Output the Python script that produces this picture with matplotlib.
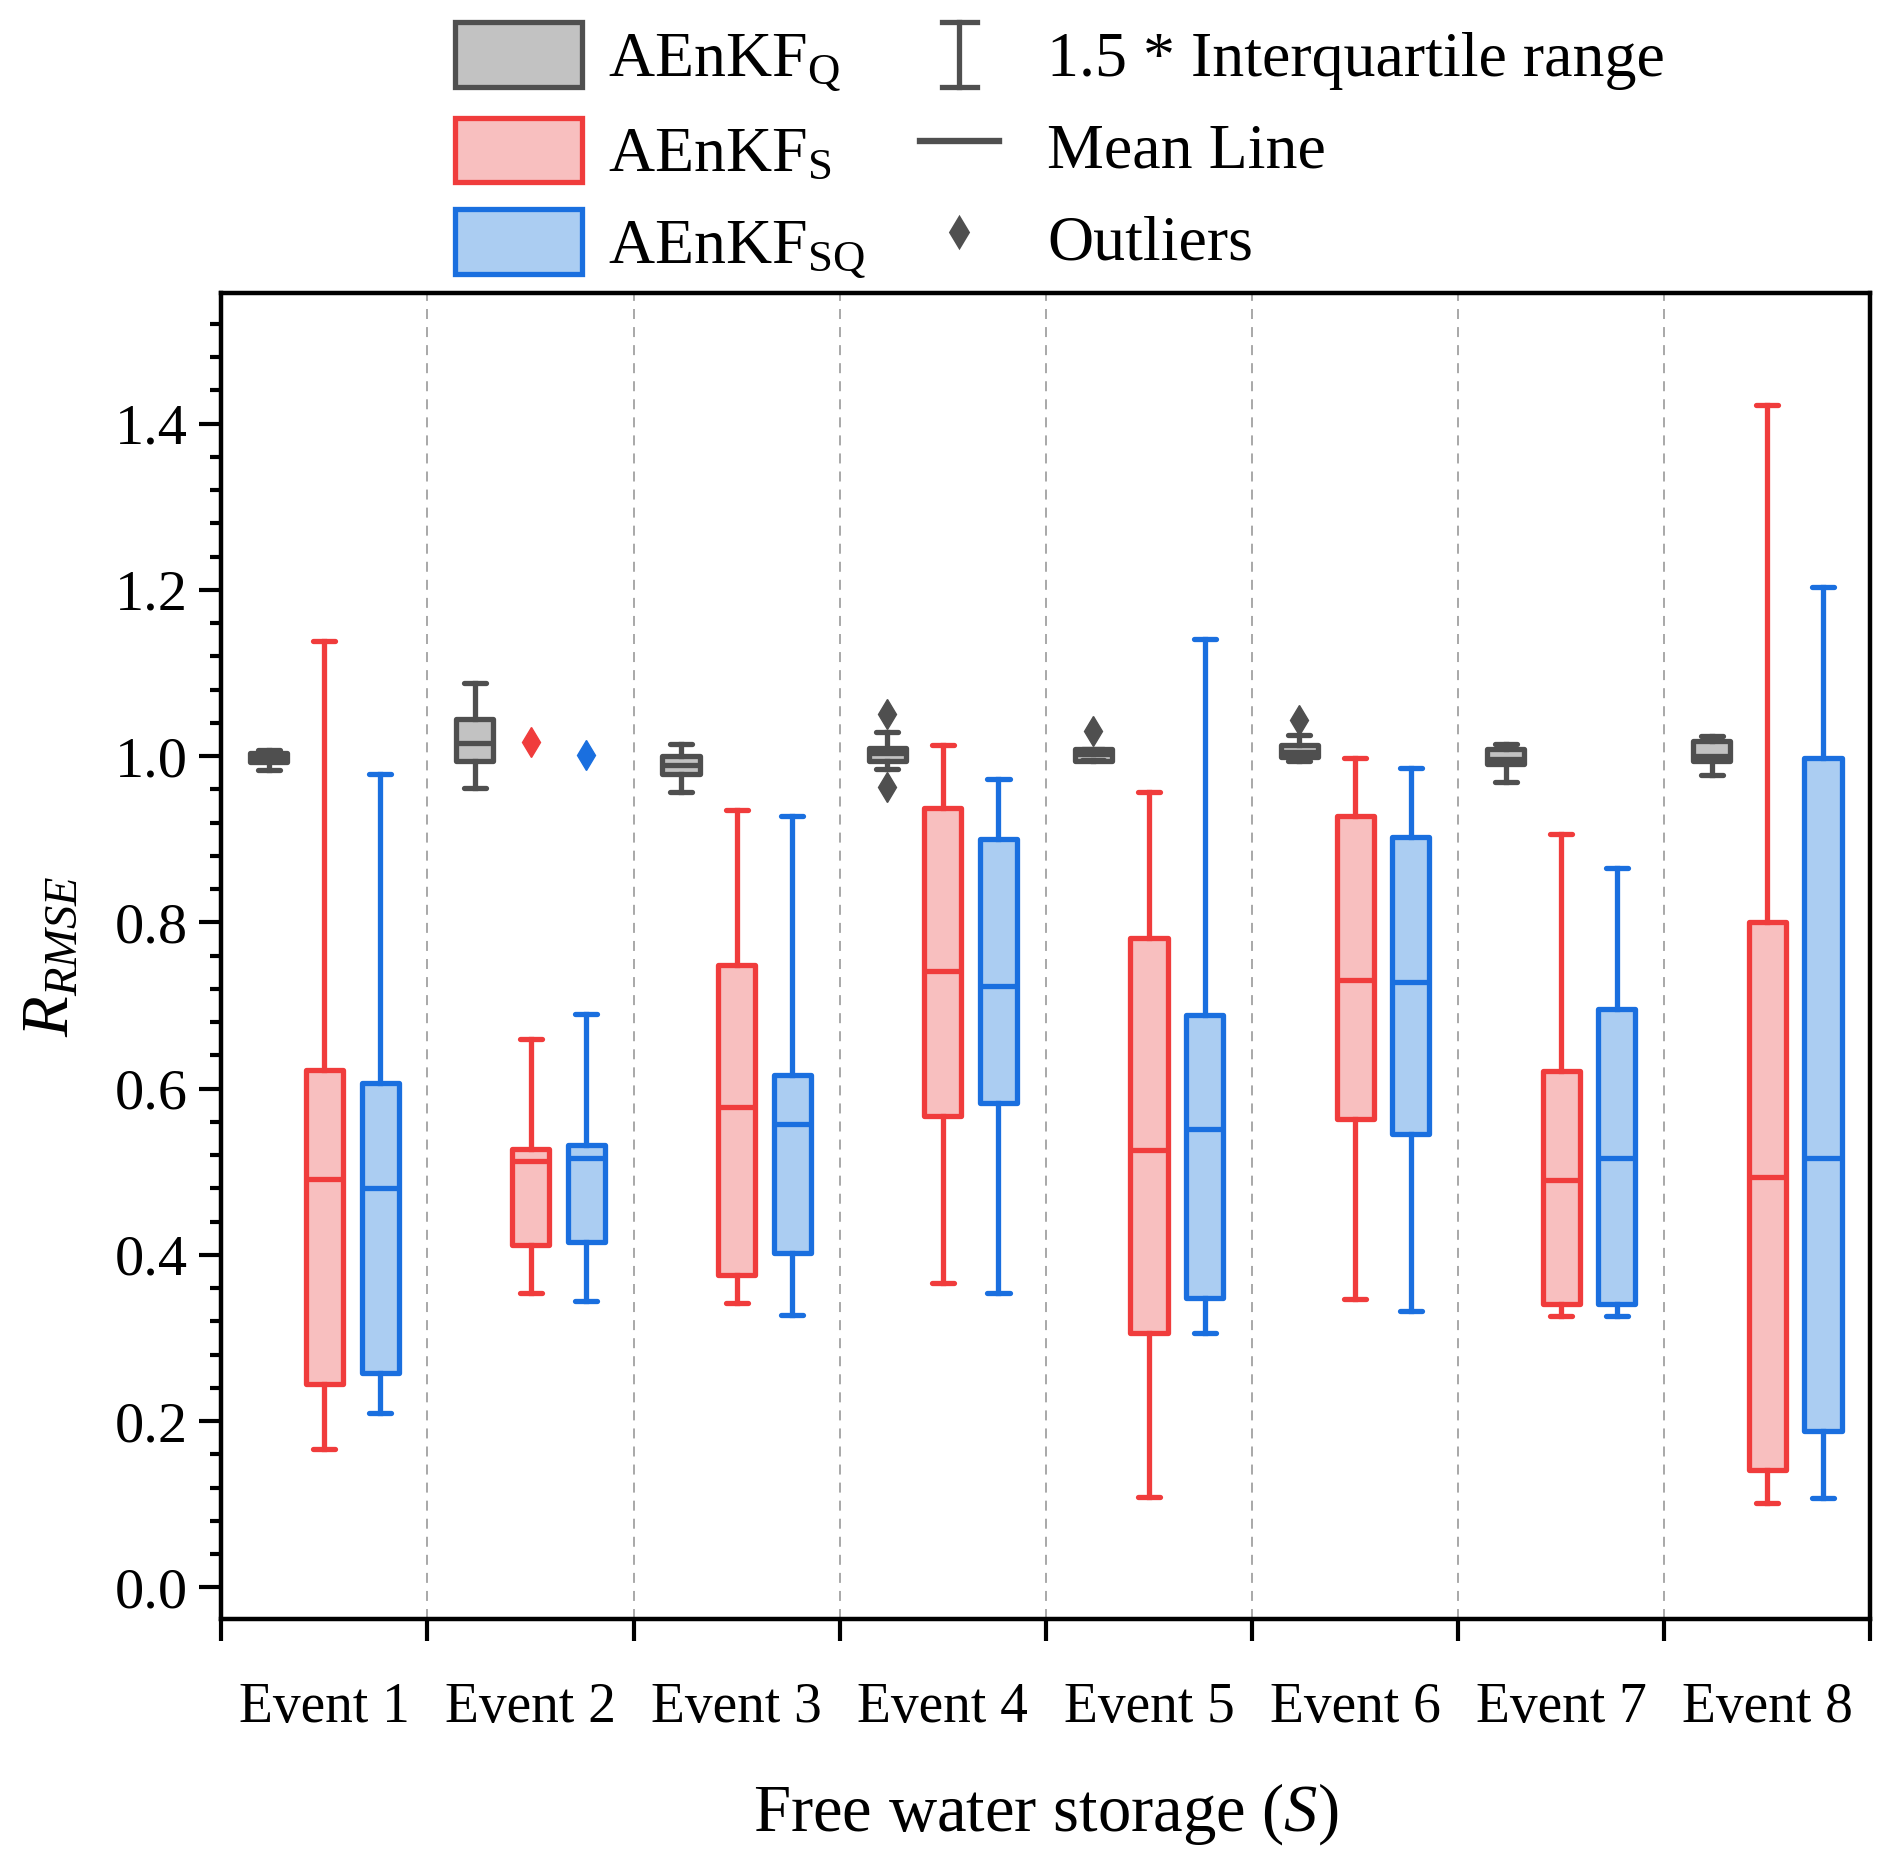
import numpy as np
import matplotlib
matplotlib.use("Agg")
import matplotlib.pyplot as plt
from matplotlib.patches import Patch
from matplotlib.lines import Line2D
from matplotlib.legend_handler import HandlerBase
from matplotlib.ticker import MultipleLocator, FixedLocator, NullFormatter, FixedFormatter

plt.rcParams['font.family'] = ['Liberation Serif', 'DejaVu Serif']
plt.rcParams['mathtext.fontset'] = 'custom'
plt.rcParams['mathtext.rm'] = 'Liberation Serif'
plt.rcParams['mathtext.it'] = 'Liberation Serif:italic'
plt.rcParams['mathtext.bf'] = 'Liberation Serif:bold'
plt.rcParams['lines.scale_dashes'] = False

# ---------------- data ----------------
events = ["Event 1", "Event 2", "Event 3", "Event 4", "Event 5", "Event 6", "Event 7", "Event 8"]
series_names = ["AEnKF$_{\\mathrm{Q}}$", "AEnKF$_{\\mathrm{S}}$", "AEnKF$_{\\mathrm{SQ}}$"]

# AEnKF_Q
q_whislo = [0.983, 0.962, 0.957, 0.984, 0.995, 0.994, 0.969, 0.977]
q_q1     = [0.993, 0.994, 0.978, 0.994, 0.994, 0.999, 0.990, 0.994]
q_mean   = [0.998, 1.016, 0.989, 1.004, 1.002, 1.005, 0.996, 1.000]
q_q3     = [1.004, 1.045, 1.000, 1.010, 1.009, 1.013, 1.009, 1.018]
q_whishi = [1.007, 1.088, 1.015, 1.029, 1.009, 1.026, 1.014, 1.024]
q_fliers = [[], [], [], [1.051, 0.963], [1.030], [1.043], [], []]

# AEnKF_S
s_whislo = [0.166, 0.354, 0.342, 0.366, 0.109, 0.347, 0.326, 0.102]
s_q1     = [0.245, 0.412, 0.376, 0.567, 0.306, 0.564, 0.341, 0.141]
s_mean   = [0.491, 0.513, 0.578, 0.742, 0.526, 0.731, 0.490, 0.494]
s_q3     = [0.622, 0.527, 0.749, 0.937, 0.781, 0.928, 0.621, 0.800]
s_whishi = [1.139, 0.660, 0.935, 1.013, 0.957, 0.998, 0.906, 1.422]
s_fliers = [[], [1.017], [], [], [], [], [], []]

# AEnKF_SQ
sq_whislo = [0.210, 0.345, 0.328, 0.354, 0.306, 0.332, 0.326, 0.108]
sq_q1     = [0.258, 0.415, 0.402, 0.583, 0.348, 0.546, 0.341, 0.188]
sq_mean   = [0.481, 0.517, 0.558, 0.724, 0.552, 0.728, 0.517, 0.517]
sq_q3     = [0.607, 0.532, 0.616, 0.900, 0.689, 0.903, 0.696, 0.998]
sq_whishi = [0.979, 0.690, 0.928, 0.973, 1.141, 0.986, 0.865, 1.203]
sq_fliers = [[], [1.001], [], [], [], [], [], []]

edge_colors = ["#4f4f4f", "#f03c3c", "#1a6fdf"]
face_colors = ["#c2c2c2", "#f8bfbf", "#abcdf2"]
offsets = [-0.27, 0.0, 0.27]

all_series = [
    (q_whislo, q_q1, q_mean, q_q3, q_whishi, q_fliers),
    (s_whislo, s_q1, s_mean, s_q3, s_whishi, s_fliers),
    (sq_whislo, sq_q1, sq_mean, sq_q3, sq_whishi, sq_fliers),
]

# ---------------- figure ----------------
fig = plt.figure(figsize=(9.46, 9.31), dpi=200)
ax = fig.add_axes([0.117, 0.1305, 0.8716, 0.7121])

LW = 1.9
x_centers = np.arange(1, len(events) + 1)

for k, (wlo, q1, mn, q3, whi, fl) in enumerate(all_series):
    stats = []
    for i in range(len(events)):
        stats.append(dict(whislo=wlo[i], q1=q1[i], med=mn[i], q3=q3[i], whishi=whi[i],
                          fliers=np.array(fl[i])))
    ec = edge_colors[k]
    ax.bxp(stats, positions=x_centers + offsets[k], widths=0.18, capwidths=0.107,
           patch_artist=True, showfliers=True,
           boxprops=dict(facecolor=face_colors[k], edgecolor=ec, linewidth=LW, joinstyle='round'),
           medianprops=dict(color=ec, linewidth=LW, solid_capstyle='butt'),
           whiskerprops=dict(color=ec, linewidth=LW),
           capprops=dict(color=ec, linewidth=LW, solid_capstyle='round'),
           flierprops=dict(marker='d', markerfacecolor=ec, markeredgecolor=ec,
                           markersize=7.6, markeredgewidth=0.5, linestyle='none'),
           zorder=3)

# separators
for b in np.arange(1.5, len(events), 1.0):
    ax.axvline(b, color='#9a9a9a', lw=0.6, linestyle=(0, (3.6, 2.9)), zorder=1)

ax.set_xlim(0.5, len(events) + 0.5)
ax.set_ylim(-0.038, 1.557)

# y ticks
ax.yaxis.set_major_locator(MultipleLocator(0.2))
ax.yaxis.set_minor_locator(MultipleLocator(0.04))
ax.yaxis.set_major_formatter(matplotlib.ticker.FormatStrFormatter('%.1f'))
ax.tick_params(axis='y', which='major', length=8, width=1.5, labelsize=21, pad=4, direction='out')
ax.tick_params(axis='y', which='minor', length=4, width=1.5, direction='out')

# x ticks: boundaries major, labels at minor centers
ax.xaxis.set_major_locator(FixedLocator(np.arange(0.5, len(events) + 1, 1.0)))
ax.xaxis.set_major_formatter(NullFormatter())
ax.xaxis.set_minor_locator(FixedLocator(x_centers))
ax.xaxis.set_minor_formatter(FixedFormatter(events))
ax.tick_params(axis='x', which='major', length=8, width=1.5, direction='out')
ax.tick_params(axis='x', which='minor', length=0, labelsize=20, pad=22.5)

for sp in ax.spines.values():
    sp.set_linewidth(1.6)

ax.set_xlabel("Free water storage ($\\mathit{S}$)", fontsize=24, labelpad=17)
ax.set_ylabel("$R_{RMSE}$", fontsize=24, labelpad=12)

# ---------------- legend ----------------
class WhiskerHandler(HandlerBase):
    def create_artists(self, legend, orig_handle, xdescent, ydescent, width, height, fontsize, trans):
        cx = -xdescent + width / 2
        y0 = -ydescent
        y1 = -ydescent + height
        hw = 0.22 * width
        c = orig_handle.get_color()
        lw = orig_handle.get_linewidth()
        arts = [Line2D([cx, cx], [y0, y1], color=c, lw=lw, transform=trans),
                Line2D([cx - hw, cx + hw], [y0, y0], color=c, lw=lw, transform=trans),
                Line2D([cx - hw, cx + hw], [y1, y1], color=c, lw=lw, transform=trans)]
        return arts

patch_handles = [Patch(facecolor=face_colors[k], edgecolor=edge_colors[k], linewidth=LW)
                 for k in range(3)]
leg1 = fig.legend(patch_handles, series_names, loc='upper left', bbox_to_anchor=(0.2405, 0.988),
                  frameon=False, fontsize=23, handlelength=1.99, handleheight=1.18,
                  handletextpad=0.41, labelspacing=0.37, borderpad=0, borderaxespad=0)

whisk = Line2D([], [], color='#4f4f4f', lw=LW)
mean_line = Line2D([], [], color='#4f4f4f', lw=LW * 1.2)
outl = Line2D([], [], color='#4f4f4f', marker='d', linestyle='none', markersize=7.6)
leg2 = fig.legend([whisk, mean_line, outl], ["1.5 * Interquartile range", "Mean Line", "Outliers"],
                  loc='upper left', bbox_to_anchor=(0.486, 0.988),
                  frameon=False, fontsize=23, handlelength=1.25, handleheight=1.18,
                  handletextpad=0.75, labelspacing=0.37, borderpad=0, borderaxespad=0,
                  handler_map={whisk: WhiskerHandler()})

fig.savefig("out.png", dpi=200)
